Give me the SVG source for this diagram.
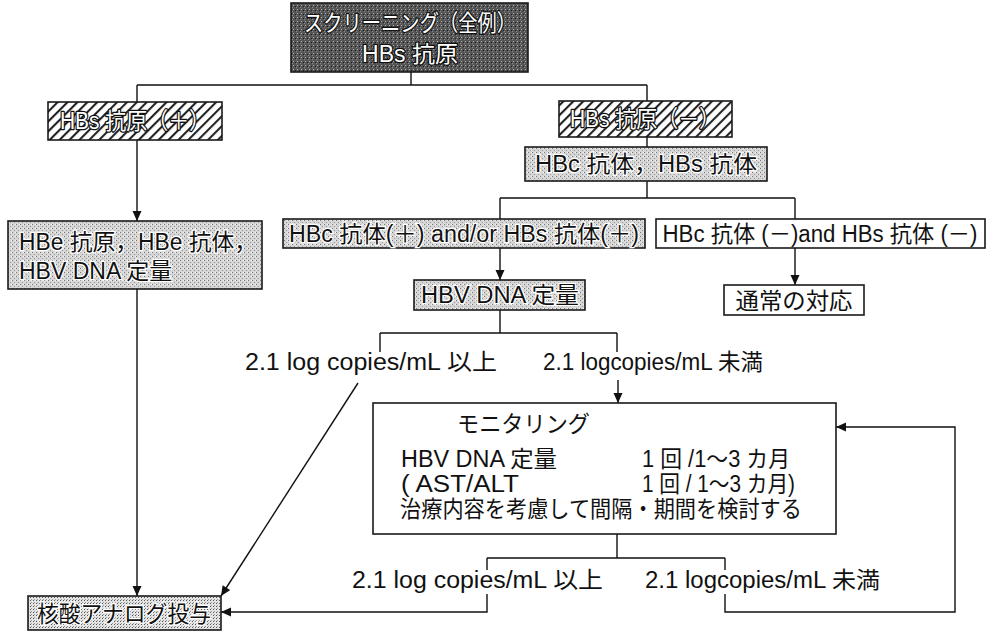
<svg xmlns="http://www.w3.org/2000/svg" width="988" height="635" viewBox="0 0 988 635">
<defs>
  <pattern id="hatch" width="7" height="7" patternUnits="userSpaceOnUse" patternTransform="rotate(45)">
    <rect width="7" height="7" fill="#fff"/>
    <line x1="1" y1="0" x2="1" y2="7" stroke="#222" stroke-width="2.2"/>
  </pattern>
  <pattern id="stip" width="4" height="4" patternUnits="userSpaceOnUse">
    <rect width="4" height="4" fill="#d6d6d6"/>
    <rect x="0" y="0" width="1" height="1" fill="#777"/>
    <rect x="2" y="2" width="1" height="1" fill="#999"/>
    <rect x="3" y="0" width="1" height="1" fill="#f2f2f2"/>
  </pattern>
  <pattern id="dark" width="4" height="4" patternUnits="userSpaceOnUse">
    <rect width="4" height="4" fill="#555"/>
    <rect x="1" y="1" width="1" height="1" fill="#b0b0b0"/>
    <rect x="3" y="2" width="1" height="1" fill="#1e1e1e"/>
    <rect x="0" y="3" width="1" height="1" fill="#8a8a8a"/>
  </pattern>
  <pattern id="mesh" width="3" height="3" patternUnits="userSpaceOnUse">
    <rect width="3" height="3" fill="#e4e4e4"/>
    <rect x="0" y="0" width="1" height="1" fill="#555"/>
    <rect x="1" y="2" width="1" height="1" fill="#999"/>
  </pattern>
  <marker id="arr" viewBox="0 0 10 10" refX="10" refY="5" markerWidth="11" markerHeight="10" markerUnits="userSpaceOnUse" orient="auto">
    <path d="M0,0.5 L10,5 L0,9.5 z" fill="#111"/>
  </marker>
  <style>
    .box { stroke: #1a1a1a; stroke-width: 1.6; }
    .t { font-family: "Liberation Sans", "Noto Sans CJK JP", sans-serif; font-size: 23px; fill: #111; }
    .hol { fill: #fff; stroke: #111; stroke-width: 2.6; paint-order: stroke; stroke-linejoin: round; }
    .halo { paint-order: stroke; stroke: #fff; stroke-width: 2.5; }
    .ln { stroke: #111; stroke-width: 1.4; fill: none; }
    .lab { font-family: "Liberation Sans", "Noto Sans CJK JP", sans-serif; font-size: 23px; fill: #111; }
  </style>
</defs>
<rect width="988" height="635" fill="#fff"/>

<g id="connectors">
  <path class="ln" d="M411,72 V85 M137,85 H647 M137,85 V102 M647,85 V101"/>
  <path class="ln" d="M137,140 V221" marker-end="url(#arr)"/>
  <path class="ln" d="M647,137 V147"/>
  <path class="ln" d="M647,181 V198 M500,198 H795 M500,198 V219 M795,198 V219"/>
  <path class="ln" d="M500,248 V280" marker-end="url(#arr)"/>
  <path class="ln" d="M795,248 V285" marker-end="url(#arr)"/>
  <path class="ln" d="M500,310 V333 M380,333 H617 M380,333 V352 M617,333 V352"/>
  <path class="ln" d="M618,380 V403" marker-end="url(#arr)"/>
  <path class="ln" d="M358,383 L221,596" marker-end="url(#arr)"/>
  <path class="ln" d="M137,289 V596" marker-end="url(#arr)"/>
  <path class="ln" d="M617,534 V558 M487,558 H725 M487,558 V570 M725,558 V570"/>
  <path class="ln" d="M487,594 V612 H221" marker-end="url(#arr)"/>
  <path class="ln" d="M725,594 V612 H955 V427 H836" marker-end="url(#arr)"/>
  <text class="lab" x="245" y="370" textLength="252" lengthAdjust="spacingAndGlyphs">2.1 log copies/mL 以上</text>
  <text class="lab" x="543" y="370" textLength="220" lengthAdjust="spacingAndGlyphs">2.1 logcopies/mL 未満</text>
  <text class="lab" x="352" y="588" textLength="251" lengthAdjust="spacingAndGlyphs">2.1 log copies/mL 以上</text>
  <text class="lab" x="645" y="588" textLength="235" lengthAdjust="spacingAndGlyphs">2.1 logcopies/mL 未満</text>
</g>

<g id="n_screen">
  <rect class="box" x="291" y="3" width="237" height="69" fill="url(#dark)"/>
  <text class="t hol" x="410" y="31" text-anchor="middle" textLength="212" lengthAdjust="spacingAndGlyphs">スクリーニング（全例）</text>
  <text class="t hol" x="410" y="62" text-anchor="middle">HBs 抗原</text>
</g>

<g id="n_hbs_pos">
  <rect class="box" x="48" y="102" width="174" height="38" fill="url(#hatch)"/>
  <text class="t hol" x="135" y="129" text-anchor="middle" textLength="150" lengthAdjust="spacingAndGlyphs">HBs 抗原（＋）</text>
</g>

<g id="n_hbs_neg">
  <rect class="box" x="559" y="101" width="173" height="36" fill="url(#hatch)"/>
  <text class="t hol" x="645" y="127" text-anchor="middle" textLength="150" lengthAdjust="spacingAndGlyphs">HBs 抗原（－）</text>
</g>

<g id="n_hbc_hbs">
  <rect class="box" x="525" y="147" width="242" height="34" fill="url(#stip)"/>
  <text class="t halo" x="646" y="172" text-anchor="middle" textLength="222" lengthAdjust="spacingAndGlyphs">HBc 抗体，HBs 抗体</text>
</g>

<g id="n_hbe">
  <rect class="box" x="8" y="221" width="254" height="68" fill="url(#stip)"/>
  <text class="t halo" x="19" y="250" textLength="238" lengthAdjust="spacingAndGlyphs">HBe 抗原，HBe 抗体，</text>
  <text class="t halo" x="19" y="279">HBV DNA 定量</text>
</g>

<g id="n_pos">
  <rect class="box" x="283" y="219" width="362" height="29" fill="url(#stip)"/>
  <text class="t halo" x="464" y="242" text-anchor="middle" textLength="350" lengthAdjust="spacingAndGlyphs">HBc 抗体(＋) and/or HBs 抗体(＋)</text>
</g>

<g id="n_neg">
  <rect class="box" x="656" y="219" width="329" height="29" fill="#fff"/>
  <text class="t" x="820" y="242" text-anchor="middle" textLength="315" lengthAdjust="spacingAndGlyphs">HBc 抗体 (－)and HBs 抗体 (－)</text>
</g>

<g id="n_dna">
  <rect class="box" x="414" y="280" width="171" height="30" fill="url(#stip)"/>
  <text class="t halo" x="500" y="303" text-anchor="middle" textLength="158" lengthAdjust="spacingAndGlyphs">HBV DNA 定量</text>
</g>

<g id="n_usual">
  <rect class="box" x="724" y="285" width="140" height="30" fill="#fff"/>
  <text class="t" x="794" y="309" text-anchor="middle" textLength="117" lengthAdjust="spacingAndGlyphs">通常の対応</text>
</g>

<g id="n_monitor">
  <rect class="box" x="373" y="403" width="463" height="131" fill="#fff"/>
  <text class="t" x="457" y="432" font-size="21" textLength="133" lengthAdjust="spacingAndGlyphs">モニタリング</text>
  <text class="t" x="401" y="467" textLength="156" lengthAdjust="spacingAndGlyphs">HBV DNA 定量</text>
  <text class="t" x="642" y="467" textLength="148" lengthAdjust="spacingAndGlyphs">1 回 /1～3 カ月</text>
  <text class="t" x="401" y="492" textLength="118" lengthAdjust="spacingAndGlyphs">( AST/ALT</text>
  <text class="t" x="642" y="492" textLength="153" lengthAdjust="spacingAndGlyphs">1 回 / 1～3 カ月)</text>
  <text class="t" x="400" y="517" textLength="402" lengthAdjust="spacingAndGlyphs">治療内容を考慮して間隔・期間を検討する</text>
</g>

<g id="n_nuc">
  <rect class="box" x="28" y="596" width="193" height="34" fill="url(#mesh)"/>
  <text class="t halo" x="124" y="622" text-anchor="middle" textLength="174" lengthAdjust="spacingAndGlyphs">核酸アナログ投与</text>
</g>
</svg>
